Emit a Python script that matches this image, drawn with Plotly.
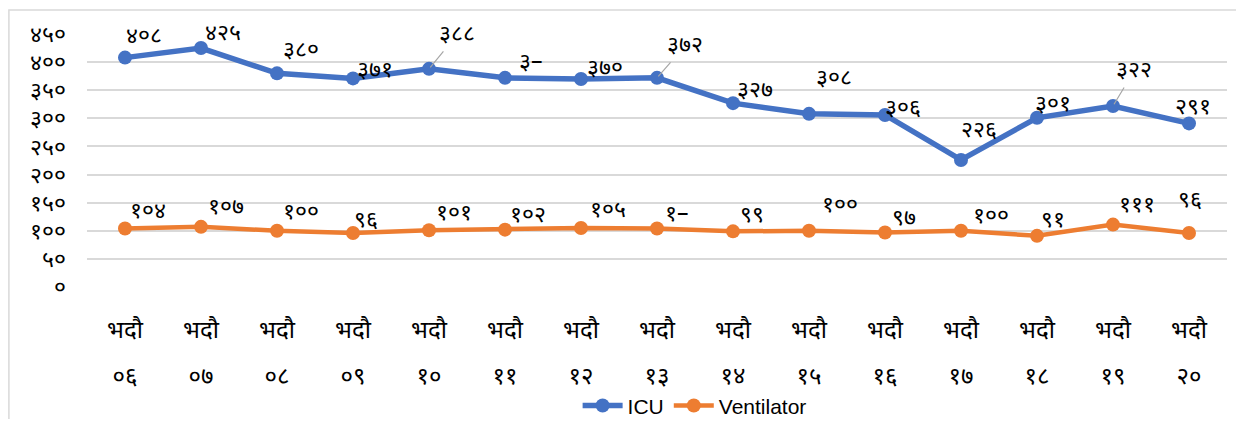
import plotly.graph_objects as go

month_labels = ["भदौ"] * 15
day_labels = ["०६", "०७", "०८", "०९", "१०", "११", "१२", "१३", "१४", "१५", "१६", "१७", "१८", "१९", "२०"]
icu_values = [408, 425, 380, 371, 388, 372, 370, 372, 327, 308, 306, 226, 301, 322, 291]
icu_labels = ["४०८", "४२५", "३८०", "३७१", "३८८", "३–", "३७०", "३७२", "३२७", "३०८", "३०६", "२२६", "३०१", "३२२", "२९१"]
vent_values = [104, 107, 100, 96, 101, 102, 105, 104, 99, 100, 97, 100, 91, 111, 96]
vent_labels = ["१०४", "१०७", "१००", "९६", "१०१", "१०२", "१०५", "१–", "९९", "१००", "९७", "१००", "९१", "१११", "९६"]
y_tickvals = [0, 50, 100, 150, 200, 250, 300, 350, 400, 450]
y_ticktext = ["०", "५०", "१००", "१५०", "२००", "२५०", "३००", "३५०", "४००", "४५०"]

# label offsets (pixels, dx right, dy up) and leader-line flags — styling only
icu_off = [(19, 21), (22, 14), (24, 22), (22, 7), (28, 34), (25, 15), (24, 10), (28, 32),
           (22, 12), (25, 35), (18, 6), (18, 29), (16, 13), (21, 35), (4, 15)]
icu_leader = [False, False, False, False, True, False, False, True,
              False, False, False, False, False, True, False]
vent_off = [(23, 17), (25, 19), (24, 18), (13, 12), (25, 16), (23, 14), (27, 17), (19, 14),
            (19, 15), (31, 25), (19, 13), (30, 14), (16, 15), (24, 19), (1, 32)]

ICU_C = "#4472C4"
VENT_C = "#ED7D31"
DEVA = "Noto Sans Devanagari, Lohit Devanagari, Mangal, Noto Sans, sans-serif"
LAT = "Liberation Sans Narrow, Liberation Sans, sans-serif"
LBL = 23

x = list(range(len(day_labels)))

fig = go.Figure()
fig.add_trace(go.Scatter(x=x, y=icu_values, name="ICU", mode="lines+markers",
                         line=dict(color=ICU_C, width=5.5), marker=dict(size=14, color=ICU_C)))
fig.add_trace(go.Scatter(x=x, y=vent_values, name="Ventilator", mode="lines+markers",
                         line=dict(color=VENT_C, width=4.5), marker=dict(size=14, color=VENT_C)))
# invisible trace on the second x axis carrying the day-number tick row
fig.add_trace(go.Scatter(x=x, y=vent_values, xaxis="x2", mode="markers", showlegend=False,
                         marker=dict(opacity=0), hoverinfo="skip"))

annotations = []
for i in x:
    dx, dy = icu_off[i]
    if icu_leader[i]:
        annotations.append(dict(x=i, y=icu_values[i], text=icu_labels[i], showarrow=True,
                                ax=dx, ay=-dy, arrowhead=0, arrowcolor="#A6A6A6", arrowwidth=1.2,
                                standoff=2, font=dict(size=LBL, color="#000", family=DEVA)))
    else:
        annotations.append(dict(x=i, y=icu_values[i], text=icu_labels[i], showarrow=False,
                                xshift=dx, yshift=dy, font=dict(size=LBL, color="#000", family=DEVA)))
    dx, dy = vent_off[i]
    annotations.append(dict(x=i, y=vent_values[i], text=vent_labels[i], showarrow=False,
                            xshift=dx, yshift=dy, font=dict(size=LBL, color="#000", family=DEVA)))

fig.update_layout(
    width=1228, height=411,
    margin=dict(l=79, r=9, t=26, b=132, autoexpand=False),
    paper_bgcolor="white", plot_bgcolor="white",
    showlegend=True,
    legend=dict(orientation="h", x=0.533, xanchor="center", y=-0.47, yanchor="middle",
                bgcolor="rgba(0,0,0,0)",
                font=dict(size=21, color="#000", family=LAT),
                itemwidth=40, tracegroupgap=0),
    annotations=annotations,
    shapes=[dict(type="rect", xref="paper", yref="paper", x0=-0.0685, x1=1.03, y0=-0.6, y1=1.095,
                 line=dict(color="#D9D9D9", width=1.5), fillcolor="rgba(0,0,0,0)", layer="below")],
    xaxis=dict(range=[-0.5, 14.5], tickmode="array", tickvals=x, ticktext=month_labels,
               showgrid=False, zeroline=False, showline=False, ticks="", automargin=False,
               tickfont=dict(size=24, color="#000", family=DEVA), ticklabelstandoff=26),
    xaxis2=dict(range=[-0.5, 14.5], overlaying="x", anchor="y", side="bottom",
                tickmode="array", tickvals=x, ticktext=day_labels,
                showgrid=False, zeroline=False, showline=False, ticks="", automargin=False,
                tickfont=dict(size=24, color="#000", family=DEVA), ticklabelstandoff=72),
    yaxis=dict(range=[0, 450], tickmode="array", tickvals=y_tickvals, ticktext=y_ticktext,
               showgrid=True, gridcolor="#D9D9D9", gridwidth=1.5, zeroline=False, showline=False,
               ticks="", automargin=False, tickfont=dict(size=LBL, color="#000", family=DEVA),
               ticklabelstandoff=20),
)

fig.write_html("out.html")
